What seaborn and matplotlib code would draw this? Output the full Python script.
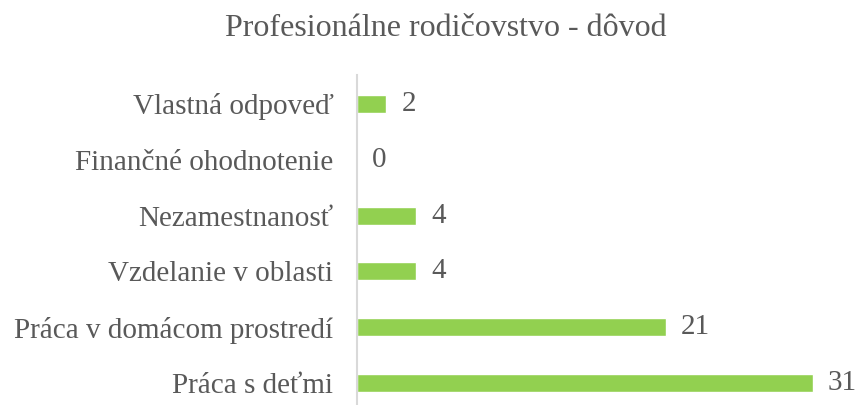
import matplotlib
matplotlib.use("Agg")
import matplotlib.pyplot as plt
import seaborn as sns
import pandas as pd

categories = ["Vlastná odpoveď", "Finančné ohodnotenie", "Nezamestnanosť",
              "Vzdelanie v oblasti", "Práca v domácom prostredí", "Práca s deťmi"]
values = [2, 0, 4, 4, 21, 31]
title = "Profesionálne rodičovstvo - dôvod"

df = pd.DataFrame({"kategoria": categories, "pocet": values})

sns.set_theme(style="white")
plt.rcParams["font.family"] = ["Liberation Serif", "DejaVu Serif"]

text_color = "#595959"
fig = plt.figure(figsize=(8.57, 4.05), dpi=100)
ax = fig.add_axes([357/857, 0.0, 485/857, 330/405])

sns.barplot(data=df, x="pocet", y="kategoria", order=categories, color="#92D050",
            saturation=1, width=0.32, ax=ax)

ax.set_xlim(0, 33)
ax.set_ylim(5 + 22/55.8, -(104-75)/55.8)
ax.set_xlabel("")
ax.set_ylabel("")
ax.set_xticks([])
for s in ["top", "right", "bottom"]:
    ax.spines[s].set_visible(False)
ax.spines["left"].set_color("#D9D9D9")
ax.spines["left"].set_linewidth(1.5)
ax.tick_params(axis="y", length=0, pad=17, labelsize=21, labelcolor=text_color)

for c in ax.containers:
    ax.bar_label(c, labels=[str(v) for v in values], padding=11, fontsize=21, color=text_color)

fig.text(446/857, 1 - 29/405, title, ha="center", va="center", fontsize=23, color=text_color)

fig.savefig("out.png", dpi=100)
